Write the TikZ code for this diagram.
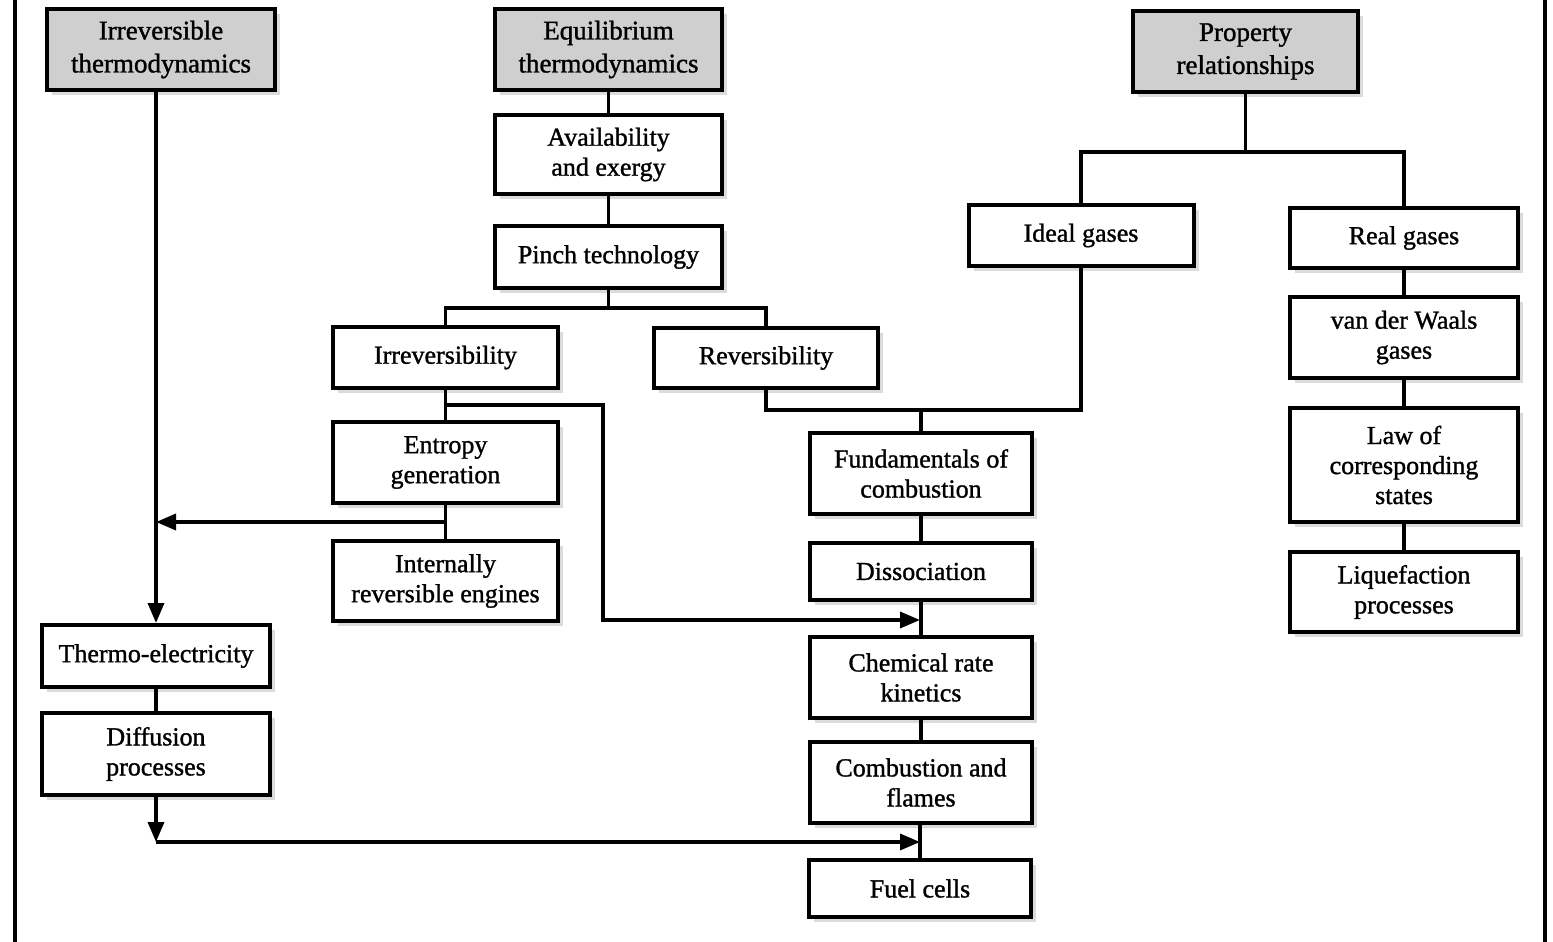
\documentclass[tikz,border=0pt]{standalone}
\usepackage{fontspec}
\setmainfont{Liberation Serif}[BoldFont=Liberation Serif,BoldFeatures={FakeBold=1.2}]
\usetikzlibrary{arrows.meta,shadows,calc}
\begin{document}
\begin{tikzpicture}[x=1pt,y=-1pt,
  box/.style={draw,line width=4pt,fill=white,align=center,
    font=\fontsize{26}{30}\selectfont\bfseries,inner sep=0pt,
    drop shadow={shadow xshift=5pt,shadow yshift=-5pt,fill=black!14,opacity=1}},
  head/.style={box,fill=black!19,font=\fontsize{27}{33}\selectfont\bfseries},
  con/.style={line width=3.5pt},
  arr/.style={con,-{Triangle[length=20pt,width=16pt]}},
  frame/.style={line width=4pt}]
\useasboundingbox (0,0) rectangle (1553,942);
\draw[frame] (15,0) -- (15,942);
\draw[frame] (1545,0) -- (1545,942);

% headers
\node[head,minimum width=228pt,minimum height=81pt] (irrT) at (161,49.5) {Irreversible\\thermodynamics};
\node[head,minimum width=227pt,minimum height=81pt] (eqT) at (608.5,49.5) {Equilibrium\\thermodynamics};
\node[head,minimum width=225pt,minimum height=81pt] (prop) at (1245.5,51.5) {Property\\relationships};

% centre column
\node[box,minimum width=227pt,minimum height=79pt] (avail) at (608.5,154.5) {Availability\\and exergy};
\node[box,minimum width=227pt,minimum height=62pt] (pinch) at (608.5,257) {Pinch technology};
\node[box,minimum width=225pt,minimum height=61pt] (irrev) at (445.5,357.5) {Irreversibility};
\node[box,minimum width=224pt,minimum height=60pt] (rev) at (766,358) {Reversibility};
\node[box,minimum width=225pt,minimum height=81pt] (ent) at (445.5,462.5) {Entropy\\generation};
\node[box,minimum width=225pt,minimum height=80pt] (intrev) at (445.5,581) {Internally\\reversible engines};

% right
\node[box,minimum width=225pt,minimum height=61pt] (ideal) at (1081,235.5) {Ideal gases};
\node[box,minimum width=228pt,minimum height=60pt] (real) at (1404,238) {Real gases};
\node[box,minimum width=228pt,minimum height=81pt] (vdw) at (1404,337.5) {van der Waals\\gases};
\node[box,minimum width=228pt,minimum height=114pt] (law) at (1404,465) {Law of\\corresponding\\states};
\node[box,minimum width=228pt,minimum height=80pt] (liq) at (1404,592) {Liquefaction\\processes};

% combustion column
\node[box,minimum width=222pt,minimum height=81pt] (fund) at (921,473.5) {Fundamentals of\\combustion};
\node[box,minimum width=222pt,minimum height=57pt] (diss) at (921,571.5) {Dissociation};
\node[box,minimum width=222pt,minimum height=81pt] (chem) at (921,677.5) {Chemical rate\\kinetics};
\node[box,minimum width=222pt,minimum height=81pt] (comb) at (921,782.5) {Combustion and\\flames};
\node[box,minimum width=222pt,minimum height=57pt] (fuel) at (920,888.5) {Fuel cells};

% left
\node[box,minimum width=228pt,minimum height=62pt] (thermo) at (156,656) {Thermo-electricity};
\node[box,minimum width=228pt,minimum height=82pt] (diff) at (156,754) {Diffusion\\processes};

% junctions
\coordinate (p1) at (608.5,308);
\coordinate (e1) at (445.5,522);
\coordinate (e2) at (156,522);
\coordinate (i1) at (445.5,405);
\coordinate (i2) at (603,405);
\coordinate (i3) at (603,620);
\coordinate (i4) at (920,620);
\coordinate (r1) at (766,410);
\coordinate (r2) at (1081,410);
\coordinate (f1) at (921,410);
\coordinate (g1) at (1245.5,152);
\coordinate (d1) at (156,842);
\coordinate (d2) at (920,842);

% connectors
\draw[arr] (irrT.south -| thermo.north) -- (thermo.north);
\draw[con] (thermo) -- (diff);
\draw[arr] (diff.south) -- (d1);
\draw[arr] (d1) -- (d2);

\draw[con] (eqT) -- (avail);
\draw[con] (avail) -- (pinch);
\draw[con] (pinch.south) -- (p1);
\draw[con] (irrev.north) |- (p1) -| (rev.north);
\draw[con] (irrev) -- (ent);
\draw[con] (ent) -- (intrev);
\draw[arr] (e1) -- (e2);
\draw[arr] (i1) -- (i2) -- (i3) -- (i4);

\draw[con] (rev.south) -- (r1) -- (r2) -- (ideal.south);
\draw[con] (f1) -- (fund.north);
\draw[con] (fund) -- (diss);
\draw[con] (diss) -- (chem);
\draw[con] (chem) -- (comb);
\draw[con] (comb.south -| fuel.north) -- (fuel.north);

\draw[con] (prop.south) -- (g1);
\draw[con] (ideal.north) |- (g1) -| (real.north);
\draw[con] (real) -- (vdw);
\draw[con] (vdw) -- (law);
\draw[con] (law) -- (liq);
\end{tikzpicture}
\end{document}
